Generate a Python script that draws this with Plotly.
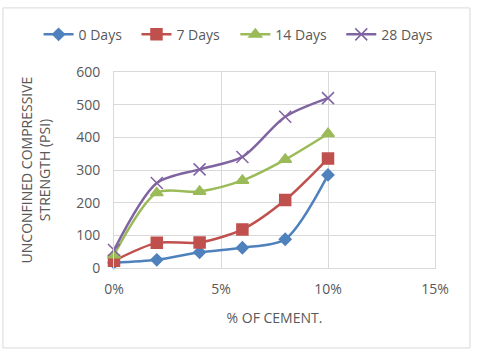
import plotly.graph_objects as go

cement = [0.0, 0.02, 0.04, 0.06, 0.08, 0.10]
series_names = ["0 Days", "7 Days", "14 Days", "28 Days"]
days0 = [16, 25, 48, 62, 88, 285]
days7 = [22, 77, 78, 118, 208, 335]
days14 = [40, 230, 234, 268, 332, 411]
days28 = [55, 260, 302, 340, 463, 520]
colors = ["#4F81BD", "#C0504D", "#9BBB59", "#8064A2"]
symbols = ["diamond", "square", "triangle-up", "x-thin-open"]
sizes = [9, 11, 11, 12]
legend_ids = ["legend", "legend2", "legend3", "legend4"]
legend_x = [-0.235, 0.070, 0.378, 0.708]

grid = "#D9D9D9"
txt = "#595959"

fig = go.Figure()
for name, vals, c, s, sz, lg in zip(series_names, [days0, days7, days14, days28], colors, symbols, sizes, legend_ids):
    fig.add_trace(go.Scatter(
        x=cement, y=vals, name=name, mode="lines+markers",
        line=dict(color=c, width=2.5, shape="spline", smoothing=0.8),
        marker=dict(symbol=s, size=sz, color=c, line=dict(color=c, width=1.5)),
        cliponaxis=False, legend=lg,
    ))

layout_legends = {}
for lg, lx in zip(legend_ids, legend_x):
    layout_legends[lg] = dict(orientation="h", x=lx, xanchor="left", y=1.19, yanchor="middle",
                              font=dict(size=14, color=txt), itemwidth=30,
                              bgcolor="rgba(0,0,0,0)")

fig.update_layout(
    width=478, height=350,
    margin=dict(l=114, r=43, t=72, b=82),
    paper_bgcolor="white", plot_bgcolor="white",
    font=dict(family="Open Sans, Liberation Sans, sans-serif", color=txt, size=14),
    xaxis=dict(range=[0, 0.15], dtick=0.05, tickformat=".0%", showgrid=True, gridcolor=grid,
               gridwidth=1, zeroline=False, showline=True, linecolor=grid,
               title=dict(text="% OF CEMENT.", font=dict(size=14, color=txt), standoff=16),
               ticks="", ticklabelstandoff=8, tickfont=dict(size=14, color=txt), mirror=True),
    yaxis=dict(range=[0, 600], dtick=100, showgrid=True, gridcolor=grid, gridwidth=1,
               zeroline=False, showline=True, linecolor=grid, mirror=True,
               title=dict(text="UNCONFINED COMPRESSIVE<br>STRENGTH (PSI)", font=dict(size=14, color=txt), standoff=22),
               ticks="", ticklabelstandoff=10, tickfont=dict(size=14, color=txt)),
    showlegend=True,
    **layout_legends,
)
fig.add_shape(type="rect", xref="paper", yref="paper",
              x0=-0.346, x1=1.109, y0=-0.408, y1=1.327,
              line=dict(color="#D9D9D9", width=1), layer="below")
fig.write_html("out.html")
